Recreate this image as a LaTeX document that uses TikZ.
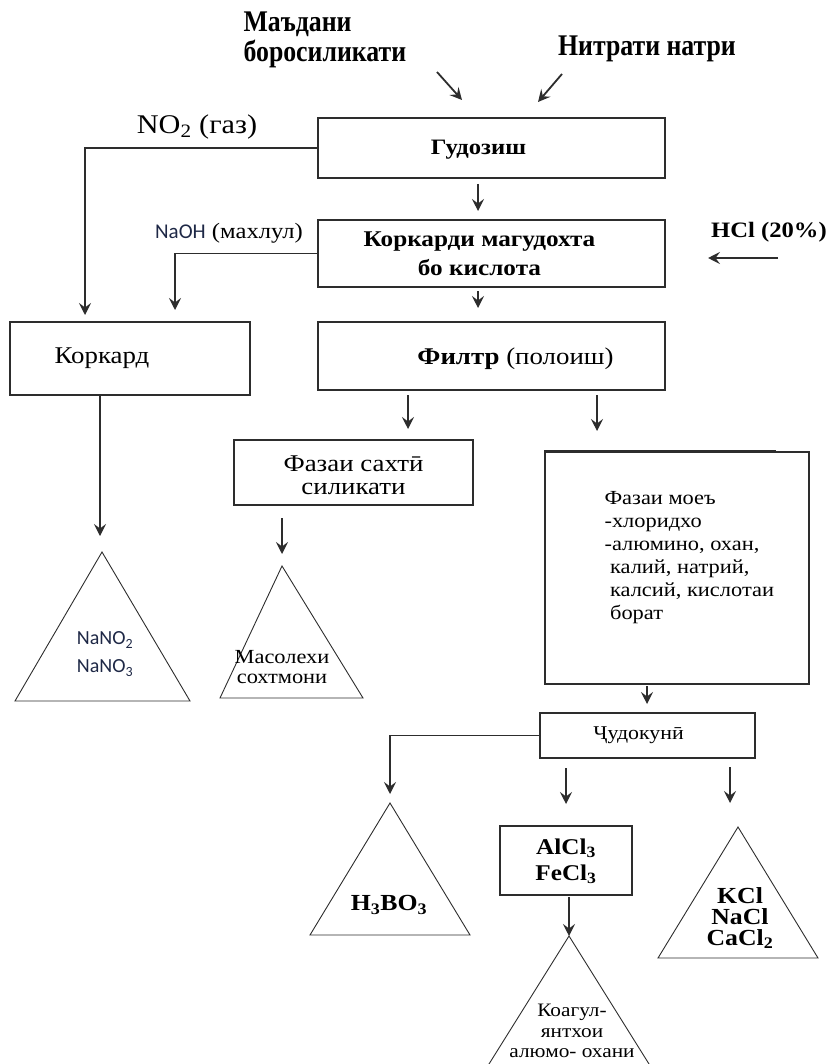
\documentclass[tikz,border=0pt]{standalone}
\usepackage{fontspec}
\setmainfont{Liberation Serif}[FakeStretch=1.12]
\newfontfamily\narrowbf[FakeStretch=0.86]{Liberation Serif}
\newfontfamily\calib{Carlito}
\usetikzlibrary{arrows.meta}
\definecolor{linec}{RGB}{45,45,45}
\definecolor{bluet}{RGB}{30,40,70}
\begin{document}
\begin{tikzpicture}[x=1pt,y=-1pt,
  box/.style={draw=linec, line width=1.1pt, inner sep=0pt},
  arr/.style={draw=linec, line width=1.3pt, -{Stealth[length=12pt,width=12pt,inset=4.5pt]}},
  tri/.style={draw=linec, line width=0.9pt},
  btext/.style={font=\bfseries\fontsize{22}{26}\selectfont, align=center},
  rtext/.style={font=\fontsize{24}{23}\selectfont, align=center},
  toptext/.style={font=\narrowbf\bfseries\fontsize{30}{30}\selectfont}
]
\useasboundingbox (0,0) rectangle (832,1064);
\clip (0,0) rectangle (832,1064);

% top inputs
\node[toptext, align=left, anchor=west] (ore) at (240,40) {Маъдани\\боросиликати};
\node[toptext, anchor=center] (nitr) at (647,49) {Нитрати натри};
\coordinate (a1s) at (437,72); \coordinate (a1e) at (462,100);
\coordinate (a2s) at (562,74); \coordinate (a2e) at (538,102);
\draw[arr, line width=1.8pt] (a1s) -- (a1e);
\draw[arr, line width=1.8pt] (a2s) -- (a2e);

% boxes
\node[box, minimum width=347pt, minimum height=60pt,
  label={[btext, xshift=-13pt, yshift=-2pt]center:Гудозиш}] (gud) at (491.5,148) {};
\node[box, minimum width=347pt, minimum height=67pt,
  label={[btext, font=\bfseries\fontsize{22.5}{29}\selectfont, xshift=-12pt]center:Коркарди магудохта\\бо кислота}] (kor2) at (491.5,253.5) {};
\node[box, minimum width=240pt, minimum height=73pt,
  label={[rtext, xshift=-28pt]center:Коркард}] (kork) at (130,358.5) {};
\node[box, minimum width=347pt, minimum height=68pt,
  label={[rtext, xshift=24pt, yshift=-3pt]center:{\bfseries Филтр} (полоиш)}] (filt) at (491.5,356) {};
\node[box, minimum width=239pt, minimum height=65pt,
  label={[rtext, yshift=-3pt]center:Фазаи сахтӣ\\силикати}] (sakht) at (353.5,472.5) {};
\node[box, minimum width=264pt, minimum height=232pt] (moe) at (677,568) {};
\draw[draw=linec, line width=2pt] (moe.north west) -- ++(232,0);
\node[font=\fontsize{20}{23}\selectfont, align=left, anchor=north west] (moetext) at (601,488)
  {Фазаи моеъ\\-хлоридхо\\-алюмино, охан,\\\ калий, натрий,\\\ калсий, кислотаи\\\ борат};
\node[box, minimum width=215pt, minimum height=45pt,
  label={[font=\fontsize{19.5}{22}\selectfont, xshift=-9pt]center:Ҷудокунӣ}] (jud) at (647.5,735.5) {};
\node[box, minimum width=132pt, minimum height=69pt,
  label={[btext, font=\bfseries\fontsize{22.5}{26}\selectfont, yshift=-1pt]center:AlCl\textsubscript{3}\\FeCl\textsubscript{3}}] (alcl) at (566,860.5) {};

% side labels
\node[font=\fontsize{27}{28}\selectfont] (no2) at (197,127) {NO\textsubscript{2} (газ)};
\node[font=\fontsize{22}{24}\selectfont] (naoh) at (229,233) {{\calib\color{bluet}\fontsize{21}{22}\selectfont NaOH} (махлул)};
\node[btext] (hcl) at (769,232) {HCl (20\%)};

% connectors
\coordinate (no2e) at (85,315);
\draw[arr] (gud.west) -| (no2e);
\coordinate (naohe) at (175,310);
\draw[arr] (kor2.west) -| (naohe);
\coordinate (g1) at (478,184); \coordinate (g2) at (478,211);
\draw[arr] (g1) -- (g2);
\coordinate (h1) at (778,258); \coordinate (h2) at (708,258);
\draw[arr, line width=1.7pt] (h1) -- (h2);
\coordinate (k1) at (478,291); \coordinate (k2) at (478,308);
\draw[arr] (k1) -- (k2);
\coordinate (kd) at (100,536);
\draw[arr] (kork.south -| kd) -- (kd);
\coordinate (f1s) at (408,395); \coordinate (f1e) at (408,429);
\coordinate (f2s) at (597,395); \coordinate (f2e) at (597,431);
\draw[arr] (f1s) -- (f1e);
\draw[arr] (f2s) -- (f2e);
\coordinate (s1) at (282,518); \coordinate (s2) at (282,554);
\draw[arr] (s1) -- (s2);
\coordinate (m1) at (647,686); \coordinate (m2) at (647,704);
\draw[arr] (m1) -- (m2);
\coordinate (je) at (390,794);
\draw[arr] (jud.west) -| (je);
\coordinate (j1s) at (566,768); \coordinate (j1e) at (566,804);
\coordinate (j2s) at (730,767); \coordinate (j2e) at (730,803);
\draw[arr] (j1s) -- (j1e);
\draw[arr] (j2s) -- (j2e);
\coordinate (al1) at (569,897); \coordinate (al2) at (569,936);
\draw[arr] (al1) -- (al2);

% triangles
\coordinate (t1a) at (102,552); \coordinate (t1l) at (15,701); \coordinate (t1r) at (190,701);
\draw[tri] (t1a) -- (t1l) -- (t1r) -- cycle;
\node[font=\calib\fontsize{20}{28}\selectfont, text=bluet, align=center] (t1t) at (105,654) {NaNO\textsubscript{2}\\NaNO\textsubscript{3}};

\coordinate (t2a) at (282,566); \coordinate (t2l) at (220,698); \coordinate (t2r) at (363,698);
\draw[tri] (t2a) -- (t2l) -- (t2r) -- cycle;
\node[font=\fontsize{20}{20}\selectfont, align=center] (t2t) at (282,667) {Масолехи\\сохтмони};

\coordinate (t3a) at (390,803); \coordinate (t3l) at (310,935); \coordinate (t3r) at (470,935);
\draw[tri] (t3a) -- (t3l) -- (t3r) -- cycle;
\node[font=\bfseries\fontsize{23}{26}\selectfont] (t3t) at (389,905) {H\textsubscript{3}BO\textsubscript{3}};

\coordinate (t4a) at (738,827); \coordinate (t4l) at (658,958); \coordinate (t4r) at (818,958);
\draw[tri] (t4a) -- (t4l) -- (t4r) -- cycle;
\node[font=\bfseries\fontsize{23}{21}\selectfont, align=center] (t4t) at (740,918) {KCl\\NaCl\\CaCl\textsubscript{2}};

\coordinate (t5a) at (569,936); \coordinate (t5l) at (479,1080); \coordinate (t5r) at (659,1080);
\draw[tri] (t5a) -- (t5l) -- (t5r) -- cycle;
\node[font=\fontsize{19}{20.5}\selectfont, align=center] (t5t) at (572,1031) {Коагул-\\янтхои\\алюмо- охани};
\end{tikzpicture}
\end{document}
